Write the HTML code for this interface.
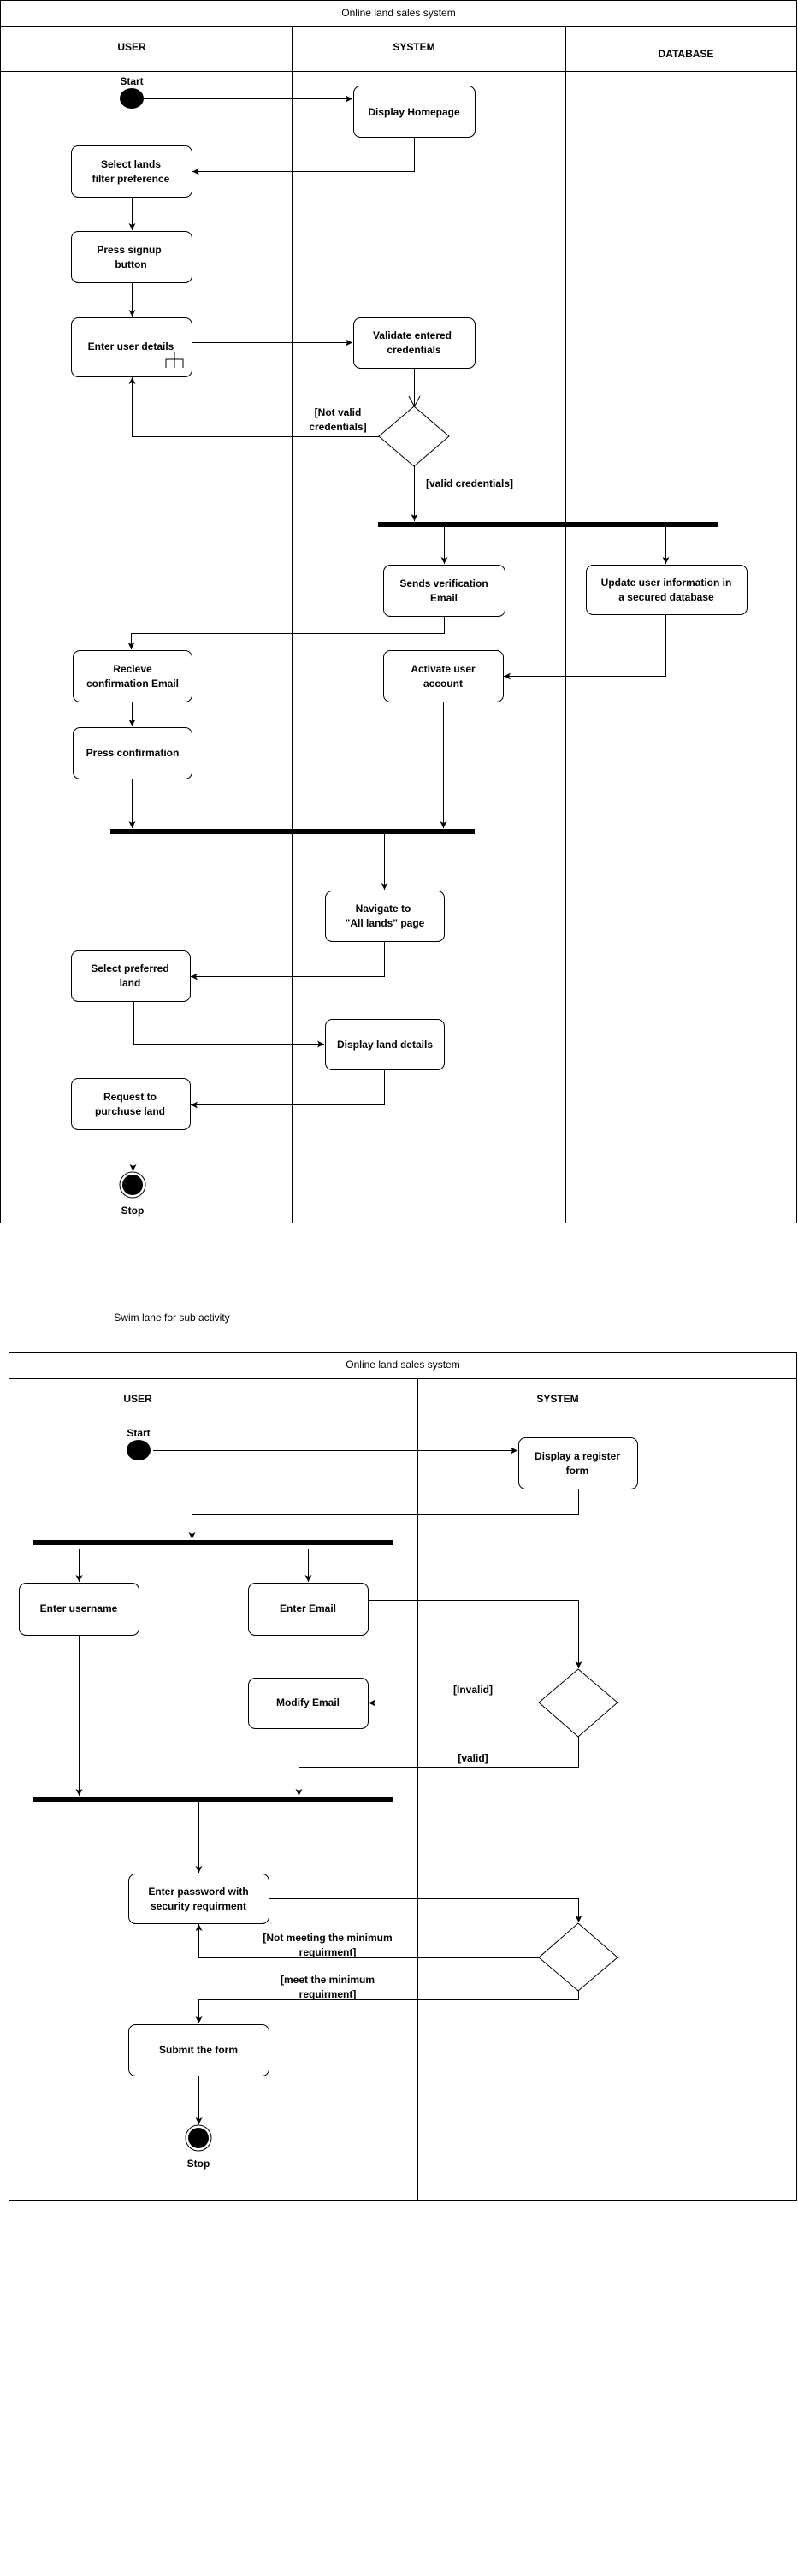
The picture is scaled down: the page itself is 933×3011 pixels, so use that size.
<!DOCTYPE html>
<html><head><meta charset="utf-8"><style>
html,body{margin:0;padding:0;background:#fff}
svg{display:block}
text{font-family:"Liberation Sans",Arial,sans-serif;font-size:12px;font-weight:bold;fill:#000}
.n{font-weight:normal}
</style></head><body>
<svg width="933" height="3011" viewBox="0 0 933 3011" xmlns="http://www.w3.org/2000/svg">
<defs>
<marker id="a" markerUnits="userSpaceOnUse" markerWidth="10" markerHeight="10" refX="8" refY="4" orient="auto">
<path d="M0,0 L8,4 L0,8 L2,4 z" fill="#000"/></marker>
</defs>
<g fill="none" stroke="#000" stroke-width="1">
<!-- Diagram 1 frame -->
<rect x="0.5" y="0.5" width="931" height="1429"/>
<line x1="0" y1="30.5" x2="932" y2="30.5"/>
<line x1="0" y1="83.5" x2="932" y2="83.5"/>
<line x1="341.5" y1="30" x2="341.5" y2="1430"/>
<line x1="661.5" y1="30" x2="661.5" y2="1430"/>
<!-- nodes -->
<rect x="413.5" y="100.5" width="142" height="60" rx="8"/>
<rect x="83.5" y="170.5" width="141" height="60" rx="8"/>
<rect x="83.5" y="270.5" width="141" height="60" rx="8"/>
<rect x="83.5" y="371.5" width="141" height="69" rx="8"/>
<path d="M204,412 V430 M194,430 V420 H214 V430"/>
<rect x="413.5" y="371.5" width="142" height="59" rx="8"/>
<path d="M484,475 L525,510 L484,545 L443,510 Z"/>
<rect x="448.5" y="660.5" width="142" height="60" rx="8"/>
<rect x="685.5" y="660.5" width="188" height="58" rx="8"/>
<rect x="85.5" y="760.5" width="139" height="60" rx="8"/>
<rect x="448.5" y="760.5" width="140" height="60" rx="8"/>
<rect x="85.5" y="850.5" width="139" height="60" rx="8"/>
<rect x="380.5" y="1041.5" width="139" height="59" rx="8"/>
<rect x="83.5" y="1111.5" width="139" height="59" rx="8"/>
<rect x="380.5" y="1191.5" width="139" height="59" rx="8"/>
<rect x="83.5" y="1260.5" width="139" height="60" rx="8"/>
<circle cx="155" cy="1385" r="15"/>
<!-- connectors -->
<line x1="168" y1="115.5" x2="412" y2="115.5" marker-end="url(#a)"/>
<path d="M484.5,161 V200.5 H225" marker-end="url(#a)"/>
<line x1="154.5" y1="231" x2="154.5" y2="269" marker-end="url(#a)"/>
<line x1="154.5" y1="331" x2="154.5" y2="370" marker-end="url(#a)"/>
<line x1="225" y1="400.5" x2="412" y2="400.5" marker-end="url(#a)"/>
<path d="M484.5,431 V475 M478,463 L484.5,475 L491,463"/>
<path d="M443,510.5 H154.5 V441" marker-end="url(#a)"/>
<line x1="484.5" y1="545" x2="484.5" y2="609" marker-end="url(#a)"/>
<line x1="519.5" y1="616" x2="519.5" y2="659" marker-end="url(#a)"/>
<line x1="778.5" y1="616" x2="778.5" y2="659" marker-end="url(#a)"/>
<path d="M519.5,721 V740.5 H153.5 V759" marker-end="url(#a)"/>
<path d="M778.5,719 V790.5 H589" marker-end="url(#a)"/>
<line x1="154.5" y1="821" x2="154.5" y2="849" marker-end="url(#a)"/>
<line x1="154.5" y1="911" x2="154.5" y2="968" marker-end="url(#a)"/>
<line x1="518.5" y1="821" x2="518.5" y2="968" marker-end="url(#a)"/>
<line x1="449.5" y1="975" x2="449.5" y2="1040" marker-end="url(#a)"/>
<path d="M449.5,1101 V1141.5 H223" marker-end="url(#a)"/>
<path d="M156.5,1171 V1220.5 H379" marker-end="url(#a)"/>
<path d="M449.5,1251 V1291.5 H223" marker-end="url(#a)"/>
<line x1="155.5" y1="1321" x2="155.5" y2="1369" marker-end="url(#a)"/>

<!-- Diagram 2 frame -->
<rect x="10.5" y="1580.5" width="921" height="992"/>
<line x1="10" y1="1611.5" x2="932" y2="1611.5"/>
<line x1="10" y1="1650.5" x2="932" y2="1650.5"/>
<line x1="488.5" y1="1611" x2="488.5" y2="2573"/>
<rect x="606.5" y="1680.5" width="139" height="60" rx="8"/>
<rect x="22.5" y="1850.5" width="140" height="61" rx="8"/>
<rect x="290.5" y="1850.5" width="140" height="61" rx="8"/>
<rect x="290.5" y="1961.5" width="140" height="59" rx="8"/>
<path d="M676,1951 L722,1990 L676,2030 L630,1990 Z"/>
<rect x="150.5" y="2190.5" width="164" height="58" rx="8"/>
<path d="M676,2248 L722,2288 L676,2327 L630,2288 Z"/>
<rect x="150.5" y="2366.5" width="164" height="60" rx="8"/>
<circle cx="232" cy="2499" r="15"/>
<line x1="179" y1="1695.5" x2="605" y2="1695.5" marker-end="url(#a)"/>
<path d="M676.5,1741 V1770.5 H224.5 V1799" marker-end="url(#a)"/>
<line x1="92.5" y1="1811" x2="92.5" y2="1849" marker-end="url(#a)"/>
<line x1="360.5" y1="1811" x2="360.5" y2="1849" marker-end="url(#a)"/>
<path d="M431,1870.5 H676.5 V1950" marker-end="url(#a)"/>
<line x1="630" y1="1990.5" x2="431" y2="1990.5" marker-end="url(#a)"/>
<path d="M676.5,2030 V2065.5 H349.5 V2099" marker-end="url(#a)"/>
<line x1="92.5" y1="1912" x2="92.5" y2="2099" marker-end="url(#a)"/>
<line x1="232.5" y1="2106" x2="232.5" y2="2189" marker-end="url(#a)"/>
<path d="M315,2219.5 H676.5 V2247" marker-end="url(#a)"/>
<path d="M630,2288.5 H232.5 V2249" marker-end="url(#a)"/>
<path d="M676.5,2327 V2337.5 H232.5 V2365" marker-end="url(#a)"/>
<line x1="232.5" y1="2427" x2="232.5" y2="2483" marker-end="url(#a)"/>
</g>
<!-- filled shapes -->
<ellipse cx="154" cy="115" rx="14" ry="12" fill="#000"/>
<rect x="442" y="610" width="397" height="6" fill="#000"/>
<rect x="129" y="969" width="426" height="6" fill="#000"/>
<circle cx="155" cy="1385" r="12" fill="#000"/>
<ellipse cx="162" cy="1695" rx="14" ry="12" fill="#000"/>
<rect x="39" y="1800" width="421" height="6" fill="#000"/>
<rect x="39" y="2100" width="421" height="6" fill="#000"/>
<circle cx="232" cy="2499" r="12" fill="#000"/>

<!-- text diagram 1 -->
<g text-anchor="middle">
<text class="n" x="466" y="19">Online land sales system</text>
<text x="154" y="59">USER</text>
<text x="484" y="59">SYSTEM</text>
<text x="802" y="67">DATABASE</text>
<text x="154" y="99">Start</text>
<text x="484" y="135">Display Homepage</text>
<text x="153" y="196">Select lands</text>
<text x="153" y="213">filter preference</text>
<text x="151" y="296">Press signup</text>
<text x="153" y="313">button</text>
<text x="153" y="409">Enter user details</text>
<text x="482" y="396">Validate entered</text>
<text x="484" y="413">credentials</text>
<text x="395" y="486">[Not valid</text>
<text x="395" y="503">credentials]</text>
<text x="549" y="569">[valid credentials]</text>
<text x="519" y="686">Sends verification</text>
<text x="519" y="703">Email</text>
<text x="779" y="685">Update user information in</text>
<text x="779" y="702">a secured database</text>
<text x="155" y="786">Recieve</text>
<text x="155" y="803">confirmation Email</text>
<text x="518" y="786">Activate user</text>
<text x="518" y="803">account</text>
<text x="155" y="884">Press confirmation</text>
<text x="448" y="1066">Navigate to</text>
<text x="450" y="1083">"All lands" page</text>
<text x="152" y="1136">Select preferred</text>
<text x="152" y="1153">land</text>
<text x="450" y="1225">Display land details</text>
<text x="152" y="1286">Request to</text>
<text x="152" y="1303">purchuse land</text>
<text x="155" y="1419">Stop</text>

<!-- text diagram 2 -->
<text class="n" x="201" y="1544">Swim lane for sub activity</text>
<text class="n" x="471" y="1599">Online land sales system</text>
<text x="161" y="1639">USER</text>
<text x="652" y="1639">SYSTEM</text>
<text x="162" y="1679">Start</text>
<text x="675" y="1706">Display a register</text>
<text x="675" y="1723">form</text>
<text x="92" y="1884">Enter username</text>
<text x="360" y="1884">Enter Email</text>
<text x="360" y="1994">Modify Email</text>
<text x="553" y="1979">[Invalid]</text>
<text x="553" y="2059">[valid]</text>
<text x="232" y="2215">Enter password with</text>
<text x="232" y="2232">security requirment</text>
<text x="383" y="2269">[Not meeting the minimum</text>
<text x="383" y="2286">requirment]</text>
<text x="383" y="2318">[meet the minimum</text>
<text x="383" y="2335">requirment]</text>
<text x="232" y="2400">Submit the form</text>
<text x="232" y="2533">Stop</text>
</g>
</svg>
</body></html>
